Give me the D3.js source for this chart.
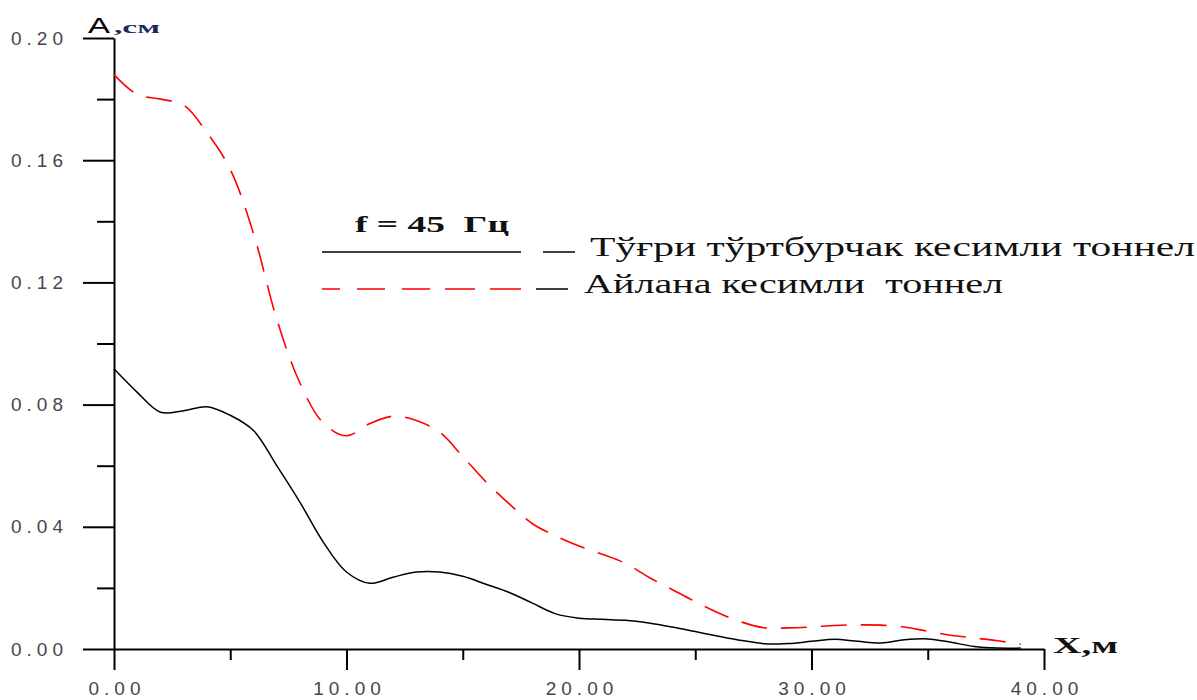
<html>
<body style="margin:0;background:#fff">
<svg width="1197" height="700"></svg>
</body>
<style>
  .tick text {
    font-family: "Liberation Sans", Arial, sans-serif;
    font-size: 19px;
    letter-spacing: 5px;
    fill: #4a4352;
  }
  .serif {
    font-family: "Liberation Serif", "Times New Roman", serif;
  }
</style>
<script src="https://d3js.org/d3.v7.min.js"></script>
<script>
// distance X, m
var xs = [0,1,2,3,4,5,6,7,8,9,10,11,12,13,14,15,16,17,18,19,
          20,21,22,23,24,25,26,27,28,29,30,31,32,33,34,35,36,37,38,39];
// rectangular section tunnel (solid black)
var rectA = [0.0917,0.0840,0.0775,0.0780,0.0793,0.0765,0.0715,0.0600,0.0480,0.0350,
             0.0252,0.0215,0.0235,0.0252,0.0252,0.0238,0.0212,0.0185,0.0150,0.0115,
             0.0101,0.0097,0.0094,0.0085,0.0072,0.0057,0.0042,0.0028,0.0017,0.0018,
             0.0025,0.0032,0.0025,0.0020,0.0030,0.0033,0.0022,0.0008,0.0003,0.0003];
// circular section tunnel (red dashed)
var circA = [0.1880,0.1815,0.1800,0.1780,0.1690,0.1570,0.1360,0.1080,0.0870,0.0740,
             0.0698,0.0738,0.0762,0.0748,0.0710,0.0630,0.0547,0.0475,0.0410,0.0370,
             0.0337,0.0310,0.0280,0.0235,0.0195,0.0155,0.0118,0.0088,0.0069,0.0069,
             0.0072,0.0077,0.0079,0.0078,0.0072,0.0058,0.0045,0.0036,0.0027,0.0016];
var xMajor = [0,10,20,30,40];
var xMinor = [5,15,25,35];
var yMajor = [0,0.04,0.08,0.12,0.16,0.20];
var yMinor = [0.02,0.06,0.10,0.14,0.18];
var legendNames = ["Тўғри тўртбурчак кесимли тоннел", "Айлана кесимли  тоннел"];
var freqLabel = "f = 45  Гц";

var svg = d3.select("svg");

var x = d3.scaleLinear().domain([0, 40]).range([114, 1044]);
var y = d3.scaleLinear().domain([0, 0.2]).range([649, 38]);

// axes
var yAxis = svg.append("g").attr("transform", "translate(" + x(0) + ",0)")
  .call(d3.axisLeft(y).tickValues(yMajor).tickSize(31).tickSizeOuter(0).tickPadding(15)
    .tickFormat(d3.format(".2f")));
svg.append("g").attr("transform", "translate(" + x(0) + ",0)")
  .call(d3.axisLeft(y).tickValues(yMinor).tickSize(17).tickSizeOuter(0).tickFormat(""))
  .select(".domain").remove();

var xAxis = svg.append("g").attr("transform", "translate(0," + y(0) + ")")
  .call(d3.axisBottom(x).tickValues(xMajor).tickSize(21).tickSizeOuter(0).tickPadding(12)
    .tickFormat(d3.format(".2f")));
svg.append("g").attr("transform", "translate(0," + y(0) + ")")
  .call(d3.axisBottom(x).tickValues(xMinor).tickSize(11).tickSizeOuter(0).tickFormat(""))
  .select(".domain").remove();

svg.selectAll(".domain, .tick line").attr("stroke", "#000").attr("stroke-width", 2);
xAxis.selectAll(".tick text").attr("dx", "2.5px");

// lines
var line = function (vals) {
  return d3.line()
    .x(function (d, i) { return x(xs[i]); })
    .y(function (d) { return y(d); })
    .curve(d3.curveCatmullRom)(vals);
};

svg.append("path")
  .attr("d", line(circA))
  .attr("fill", "none")
  .attr("stroke", "#ff0000")
  .attr("stroke-width", 1.6)
  .attr("stroke-dasharray", "26,14");

svg.append("path")
  .attr("d", line(rectA))
  .attr("fill", "none")
  .attr("stroke", "#000")
  .attr("stroke-width", 1.5);

// axis titles
svg.append("text").attr("x", 88).attr("y", 33)
  .style("font-family", "Liberation Sans, Arial, sans-serif").style("font-size", "22px")
  .attr("fill", "#000").attr("textLength", 22).attr("lengthAdjust", "spacingAndGlyphs")
  .text("A");
svg.append("text").attr("class", "serif").attr("x", 114).attr("y", 33)
  .style("font-size", "16px").style("font-weight", "bold")
  .attr("fill", "#1b2a5a").attr("textLength", 46).attr("lengthAdjust", "spacingAndGlyphs")
  .text(",см");
svg.append("text").attr("class", "serif").attr("x", 1053).attr("y", 653)
  .style("font-size", "24px").style("font-weight", "bold")
  .attr("fill", "#111").attr("textLength", 65).attr("lengthAdjust", "spacingAndGlyphs")
  .text("X,м");

// legend
svg.append("text").attr("class", "serif").attr("x", 355).attr("y", 232)
  .style("font-size", "23px").style("font-weight", "bold").style("white-space", "pre")
  .attr("fill", "#111").attr("textLength", 154).attr("lengthAdjust", "spacingAndGlyphs")
  .text(freqLabel);

svg.append("line").attr("x1", 322).attr("x2", 521).attr("y1", 252).attr("y2", 252)
  .attr("stroke", "#000").attr("stroke-width", 1.5);
svg.append("line").attr("x1", 543).attr("x2", 575).attr("y1", 252).attr("y2", 252)
  .attr("stroke", "#000").attr("stroke-width", 1.5);
svg.append("line").attr("x1", 322).attr("x2", 521).attr("y1", 289).attr("y2", 289)
  .attr("stroke", "#ff0000").attr("stroke-width", 1.5)
  .attr("stroke-dasharray", "18,17,28,17,28,15,30,15,31");
svg.append("line").attr("x1", 536).attr("x2", 568).attr("y1", 289).attr("y2", 289)
  .attr("stroke", "#000").attr("stroke-width", 1.5);

svg.append("text").attr("class", "serif").attr("x", 590).attr("y", 256)
  .style("font-size", "27px").style("white-space", "pre")
  .attr("fill", "#111").attr("textLength", 605).attr("lengthAdjust", "spacingAndGlyphs")
  .text(legendNames[0]);
svg.append("text").attr("class", "serif").attr("x", 584).attr("y", 293)
  .style("font-size", "27px").style("white-space", "pre")
  .attr("fill", "#111").attr("textLength", 419).attr("lengthAdjust", "spacingAndGlyphs")
  .text(legendNames[1]);
</script>
</html>
